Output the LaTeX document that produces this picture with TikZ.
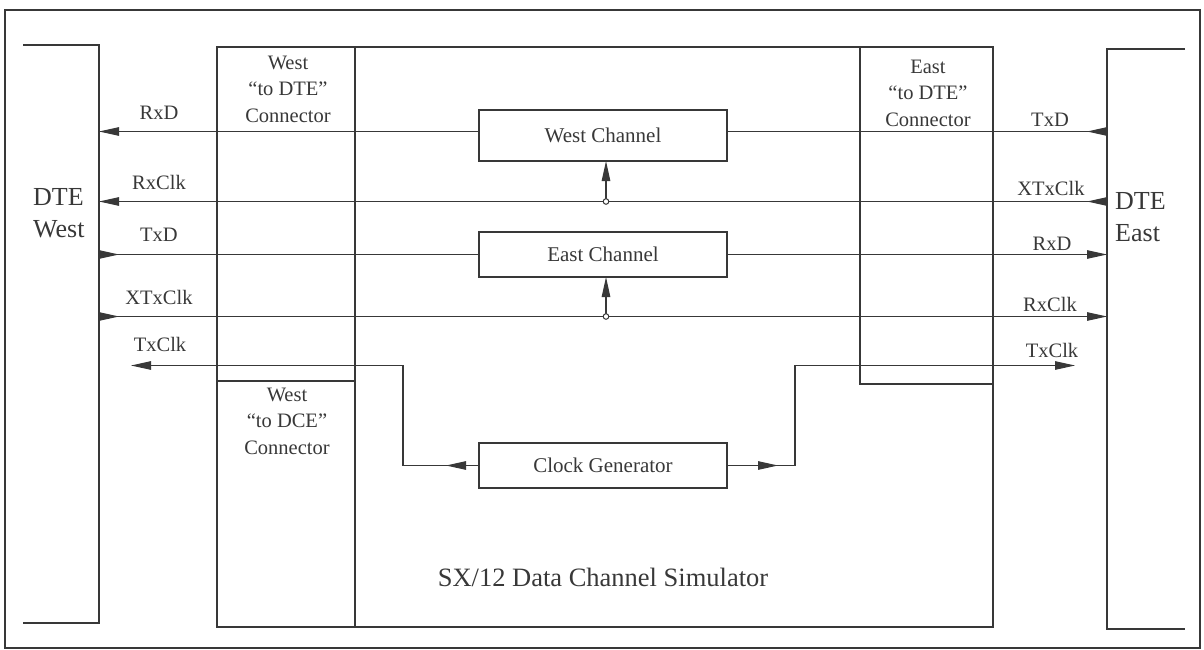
\documentclass[tikz,border=0pt]{standalone}
\usepackage{fontspec}
\setmainfont{Liberation Serif}
\usetikzlibrary{arrows.meta}
\definecolor{ink}{HTML}{383838}
\begin{document}
\begin{tikzpicture}[x=1pt,y=-1pt,
  shape box/.style={draw=none, minimum width=#1, inner sep=0pt, outer sep=0pt},
  thick box/.style={draw=ink, line width=2.5pt},
  chbox/.style={draw=ink, line width=2pt, minimum width=248pt, inner sep=0pt, outer sep=0pt, text=ink, font=\fontsize{21}{26}\selectfont},
  sig/.style={draw=ink, line width=1.1pt},
  tip/.style={-{Triangle[length=20pt,width=8.5pt]}},
  lbl/.style={inner sep=0pt, text=ink, font=\fontsize{20.5}{26.5}\selectfont, align=center},
  big/.style={inner sep=0pt, text=ink, font=\fontsize{26}{31.5}\selectfont, align=left},
  jdot/.style={draw=ink, fill=white, line width=1pt},
]
\useasboundingbox (0,0) rectangle (1204,650);
% outer frame
\node[draw=ink, line width=2pt, minimum width=1195pt, minimum height=638pt, inner sep=0pt] (frame) at (602.5,329) {};

% structural shapes (named, not drawn)
\node[shape box=76pt, minimum height=578pt] (dtew) at (61,334) {};
\node[shape box=78pt, minimum height=580pt] (dtee) at (1146,339) {};
\node[draw=ink, line width=2.5pt, minimum width=776pt, minimum height=580pt, inner sep=0pt, outer sep=0pt] (sim) at (605,337) {};
\node[draw=ink, line width=2.5pt, minimum width=138pt, minimum height=334pt, inner sep=0pt, outer sep=0pt] (wdte) at (286,214) {};
\node[draw=ink, line width=2.5pt, minimum width=138pt, minimum height=246pt, inner sep=0pt, outer sep=0pt] (wdce) at (286,504) {};
\node[draw=ink, line width=2.5pt, minimum width=133pt, minimum height=337pt, inner sep=0pt, outer sep=0pt] (edte) at (926.5,215.5) {};

% DTE open boxes
\draw[thick box] (dtew.north west) -- (dtew.north east) -- (dtew.south east) -- (dtew.south west);
\draw[thick box] (dtee.north east) -- (dtee.north west) -- (dtee.south west) -- (dtee.south east);

% channel boxes
\node[chbox, minimum height=51pt] (wch) at (603,135.5) {West Channel};
\node[chbox, minimum height=45pt] (ech) at (603,254.5) {East Channel};
\node[chbox, minimum height=45pt] (clk) at (603,465.5) {Clock Generator};

% rows
\coordinate (r1) at (0,131.5);
\coordinate (r2) at (0,201.5);
\coordinate (r3) at (0,254.5);
\coordinate (r4) at (0,316.5);
\coordinate (r5) at (0,365.5);
\coordinate (cw) at (403,0);
\coordinate (ce) at (795,0);
\coordinate (txw) at (131,365.5);
\coordinate (txe) at (1075,365.5);

% row 1: RxD (west) / TxD (east)
\draw[sig,tip] (wch.west |- r1) -- (dtew.east |- r1);
\draw[sig] (wch.east |- r1) -- (dtee.west |- r1);
\draw[sig,tip] (dtee.west |- r1) -- ++(-20,0);

% row 2: RxClk (west) / XTxClk (east)
\draw[sig,tip] (dtee.west |- r2) -- (dtew.east |- r2);
\draw[sig,tip] (dtee.west |- r2) -- ++(-20,0);
\coordinate (j1) at ([xshift=3pt]wch.south |- r2);
\draw[sig,tip] (j1) -- (j1 |- wch.south);
\draw[jdot] (j1) circle (2.8);

% row 3: TxD (west) / RxD (east)
\draw[sig] (dtew.east |- r3) -- (ech.west |- r3);
\draw[sig,tip] (dtew.east |- r3) -- ++(20,0);
\draw[sig,tip] (ech.east |- r3) -- (dtee.west |- r3);

% row 4: XTxClk (west) / RxClk (east)
\draw[sig,tip] (dtew.east |- r4) -- (dtee.west |- r4);
\draw[sig,tip] (dtew.east |- r4) -- ++(20,0);
\coordinate (j2) at ([xshift=3pt]ech.south |- r4);
\draw[sig,tip] (j2) -- (j2 |- ech.south);
\draw[jdot] (j2) circle (2.8);

% row 5: TxClk both sides from clock generator
\draw[sig,tip] (clk.west) -| (cw |- r5) -- (txw);
\draw[sig,tip] ([xshift=-14pt]clk.west) -- ++(-19,0);
\draw[sig,tip] (clk.east) -| (ce |- r5) -- (txe);
\draw[sig,tip] ([xshift=31pt]clk.east) -- ++(20,0);

% signal labels west
\node[lbl] (lw1) at (159,112.5) {RxD};
\node[lbl] (lw2) at (159,182) {RxClk};
\node[lbl] (lw3) at (159,235) {TxD};
\node[lbl] (lw4) at (159,297) {XTxClk};
\node[lbl] (lw5) at (160,344) {TxClk};
% signal labels east
\node[lbl] (le1) at (1050,119.5) {TxD};
\node[lbl] (le2) at (1051,188.5) {XTxClk};
\node[lbl] (le3) at (1052,244) {RxD};
\node[lbl] (le4) at (1050,304) {RxClk};
\node[lbl] (le5) at (1052,350) {TxClk};

% connector labels
\node[lbl] (cwdte) at (288,89) {West\\“to DTE”\\Connector};
\node[lbl] (cedte) at (928,93) {East\\“to DTE”\\Connector};
\node[lbl] (cwdce) at (287,421) {West\\“to DCE”\\Connector};

% DTE labels
\node[big, anchor=west] (ldtew) at (33,213) {DTE\\West};
\node[big, anchor=west] (ldtee) at (1115,217) {DTE\\East};

% simulator label
\node[inner sep=0pt, text=ink, font=\fontsize{26.5}{32}\selectfont] (lsim) at (603,577.5) {SX/12 Data Channel Simulator};
\end{tikzpicture}
\end{document}
